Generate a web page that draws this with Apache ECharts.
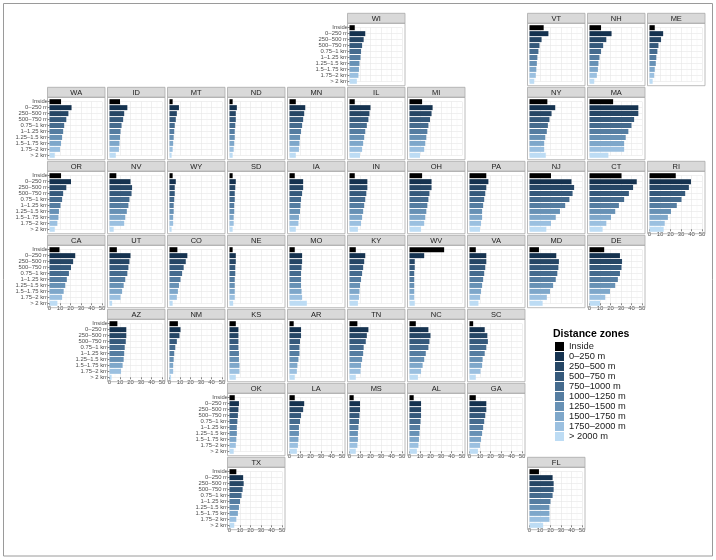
<!DOCTYPE html>
<html>
<head>
<meta charset="utf-8">
<script src="https://cdn.jsdelivr.net/npm/echarts/dist/echarts.min.js"></script>
<style>
html, body { margin: 0; padding: 0; background: #fff; }
#chart { width: 716px; height: 560px; }
</style>
</head>
<body>
<div id="chart"></div>
<script>
// distance zones (legend) and the shorter labels used on the y axes
var zones = ['Inside', '0–250 m', '250–500 m', '500–750 m', '750–1000 m', '1000–1250 m',
             '1250–1500 m', '1500–1750 m', '1750–2000 m', '> 2000 m'];
var yLabels = ['Inside', '0–250 m', '250–500 m', '500–750 m', '0.75–1 km', '1–1.25 km',
               '1.25–1.5 km', '1.5–1.75 km', '1.75–2 km', '> 2 km'];
var xMin = 0, xMax = 50, xStep = 10;
var zoneColors = ['#000000', '#15324f', '#264665', '#35597b', '#456b8e', '#557da1',
                  '#6791b5', '#7ea7ca', '#9bc0e0', '#bddcf4'];

// values per state, in zone order (Inside ... > 2 km)
var WA = [11, 21, 18, 16, 14, 13, 12, 11, 10, 5];
var ID = [10, 17, 14, 13, 11.5, 10.5, 10, 9.5, 9, 6];
var MT = [3, 9, 7, 6, 5, 4.5, 4, 3.5, 3, 2];
var ND = [3, 7, 6, 6, 5.5, 5, 5, 4.5, 4, 3];
var MN = [6, 15, 14, 13, 12, 11, 10, 9.5, 9, 6];
var IL = [5, 20, 19, 18, 16.5, 15, 14, 13, 12, 10];
var MI = [12, 22, 21, 19.5, 18, 17, 16, 15, 14, 10];
var WI = [5, 15, 13.5, 12, 11, 10.5, 9.5, 9, 8.5, 7];
var VT = [13.5, 18, 11.5, 9.5, 8.5, 7.5, 7, 6.5, 6, 4.5];
var NH = [11, 21, 16, 13, 11, 9.5, 8.5, 8, 7, 4.5];
var ME = [5, 13, 11, 8.5, 7.5, 6.5, 6, 5, 4.5, 3];
var NY = [17, 24.5, 21, 19, 17.5, 16.5, 15, 14, 14, 15.5];
var MA = [22.5, 46.5, 46.5, 42.5, 40, 37, 34.5, 33, 33, 18];
var OR = [11, 20.5, 16, 13, 12, 10.5, 9, 8.5, 7.5, 5];
var NV = [6.5, 20, 21.5, 21, 19, 18, 16.5, 15, 14, 4];
var WY = [3, 6, 5, 5, 4.5, 4, 4, 3.5, 3.5, 2];
var SD = [3, 6, 5.5, 5, 5, 4.5, 4.5, 4, 4, 3];
var IA = [5, 13, 13, 12, 11, 10.5, 10, 9, 8.5, 6];
var IN = [5, 17, 17, 16, 15, 14, 13, 12, 11, 8];
var OH = [12, 21, 21, 19, 18, 17, 16, 15, 14, 11];
var PA = [16, 18, 16, 15, 14, 13, 12, 12, 11, 10];
var NJ = [20.5, 40, 42.5, 41, 38, 34, 29, 25, 20.5, 16];
var CT = [30.5, 45, 41.5, 37.5, 33, 28, 24.5, 20.5, 16, 12.5];
var RI = [25, 39.5, 37.5, 34, 30.5, 26, 20.5, 17.5, 14.5, 13.5];
var CA = [9.5, 24.5, 22.5, 20.5, 18.5, 16.5, 15, 13.5, 12, 7.5];
var UT = [7, 20, 19, 18, 17, 15, 13.5, 12, 10.5, 2.5];
var CO = [7.5, 17, 15.5, 13.5, 12, 10.5, 9, 8, 7, 3];
var NE = [3, 6, 6, 5.5, 5.5, 5, 5, 5, 5, 3.5];
var MO = [5, 12, 12, 11.5, 11, 11, 11, 11.5, 12, 16.5];
var KY = [6, 15, 14, 13, 12, 11, 10, 9.5, 9, 8];
var WV = [33, 14, 5, 5, 4.5, 4.5, 4.5, 4.5, 4.5, 5];
var VA = [6, 16, 16, 15, 14, 13, 12, 11, 10, 8.5];
var MD = [9, 25.5, 28, 27.5, 26.5, 25, 22.5, 19.5, 16.5, 12.5];
var DE = [14, 29, 31, 30.5, 29, 27, 24.5, 19.5, 15, 10];
var AZ = [7.5, 16, 16, 15.5, 14.5, 14, 13.5, 12.5, 11, 2];
var NM = [8, 10.5, 9.5, 7, 5.5, 4.5, 4, 3.5, 3.5, 1.5];
var KS = [6, 8.5, 8.5, 8.5, 8.5, 9, 9, 9.5, 9.5, 6];
var AR = [4, 11, 11, 10, 9.5, 9.5, 8.5, 7.5, 7, 5];
var TN = [7.5, 18, 16.5, 15.5, 13.5, 13, 12, 11, 10.5, 6];
var NC = [6, 18, 20, 19, 18, 15.5, 14, 12.5, 11, 8];
var SC = [3.5, 14.5, 17, 17.5, 16, 14.5, 12.5, 12, 10.5, 6];
var OK = [5, 9, 8.5, 8, 7.5, 7, 7, 6.5, 6, 4];
var LA = [5, 14, 13, 11, 10, 9, 9, 8.5, 8, 7];
var MS = [4, 10, 10, 9.5, 9, 8.5, 8, 8, 7.5, 6];
var AL = [4, 11, 11, 11, 10.5, 10, 9.5, 9, 8.5, 7];
var GA = [6, 16, 16, 15, 14, 13, 12, 11, 10, 8];
var TX = [6.5, 13, 13.5, 12.5, 11.5, 10, 9, 8, 6.5, 4.5];
var FL = [9, 22, 23, 23, 22, 20, 19, 19, 19, 13];

var stateValues = {
    WA: WA, ID: ID, MT: MT, ND: ND, MN: MN, IL: IL, MI: MI, WI: WI, VT: VT, NH: NH, ME: ME,
    NY: NY, MA: MA, OR: OR, NV: NV, WY: WY, SD: SD, IA: IA, IN: IN, OH: OH, PA: PA, NJ: NJ,
    CT: CT, RI: RI, CA: CA, UT: UT, CO: CO, NE: NE, MO: MO, KY: KY, WV: WV, VA: VA, MD: MD,
    DE: DE, AZ: AZ, NM: NM, KS: KS, AR: AR, TN: TN, NC: NC, SC: SC, OK: OK, LA: LA, MS: MS,
    AL: AL, GA: GA, TX: TX, FL: FL
};

// geofacet grid: [state, column, row]
var geoGrid = [
    ['WI', 5, 0], ['VT', 8, 0], ['NH', 9, 0], ['ME', 10, 0],
    ['WA', 0, 1], ['ID', 1, 1], ['MT', 2, 1], ['ND', 3, 1], ['MN', 4, 1], ['IL', 5, 1], ['MI', 6, 1], ['NY', 8, 1], ['MA', 9, 1],
    ['OR', 0, 2], ['NV', 1, 2], ['WY', 2, 2], ['SD', 3, 2], ['IA', 4, 2], ['IN', 5, 2], ['OH', 6, 2], ['PA', 7, 2], ['NJ', 8, 2], ['CT', 9, 2], ['RI', 10, 2],
    ['CA', 0, 3], ['UT', 1, 3], ['CO', 2, 3], ['NE', 3, 3], ['MO', 4, 3], ['KY', 5, 3], ['WV', 6, 3], ['VA', 7, 3], ['MD', 8, 3], ['DE', 9, 3],
    ['AZ', 1, 4], ['NM', 2, 4], ['KS', 3, 4], ['AR', 4, 4], ['TN', 5, 4], ['NC', 6, 4], ['SC', 7, 4],
    ['OK', 3, 5], ['LA', 4, 5], ['MS', 5, 5], ['AL', 6, 5], ['GA', 7, 5],
    ['TX', 3, 6], ['FL', 8, 6]
];

var FONT = '"Liberation Sans", Arial, sans-serif';
var panelW = 57.5, stripH = 10, bodyH = 62.4;

// y labels on the leftmost panel of each row, x labels on the lowest panel of each column
var rowFirst = {}, colLast = {};
geoGrid.forEach(function(g) {
    if (rowFirst[g[2]] === undefined || g[1] < rowFirst[g[2]]) rowFirst[g[2]] = g[1];
    if (colLast[g[1]] === undefined || g[2] > colLast[g[1]]) colLast[g[1]] = g[2];
});

var grids = [], xAxes = [], yAxes = [], series = [];
var shapes = [{
    type: 'rect', shape: {x: 3.5, y: 3.5, width: 709, height: 552.5},
    style: {fill: 'none', stroke: '#9a9a9a', lineWidth: 1}, z: 100, silent: true
}];

geoGrid.forEach(function(g, i) {
    var code = g[0], col = g[1], row = g[2];
    var px = 47.5 + col * 60, py = 13.3 + row * 74;
    var showY = rowFirst[row] === col;
    var showX = colLast[col] === row;
    var vals = stateValues[code];

    grids.push({
        left: px + 2, top: py + stripH + 4.4, width: 52.5, height: 53.6,
        containLabel: false, outerBoundsMode: 'none'
    });
    xAxes.push({
        type: 'value', gridIndex: i, min: xMin, max: xMax, interval: xStep,
        axisLine: {show: false},
        axisTick: {show: showX, length: 2, lineStyle: {color: '#333', width: 0.6}},
        axisLabel: {show: showX, fontSize: 6, color: '#4d4d4d', margin: 2, fontFamily: FONT},
        splitLine: {show: true, lineStyle: {color: '#e6e6e6', width: 0.6}},
        minorTick: {show: false, splitNumber: 2},
        minorSplitLine: {show: true, lineStyle: {color: '#f0f0f0', width: 0.4}}
    });
    yAxes.push({
        type: 'category', gridIndex: i, data: yLabels, inverse: true, boundaryGap: false,
        axisLine: {show: false},
        axisTick: {show: showY, length: 2.5, lineStyle: {color: '#333', width: 0.6}},
        axisLabel: {show: showY, interval: 0, fontSize: 5.9, color: '#4d4d4d', margin: 1.5, fontFamily: FONT},
        splitLine: {show: true, lineStyle: {color: '#e6e6e6', width: 0.6}}
    });

    zones.forEach(function(z, k) {
        series.push({
            type: 'bar', name: z, xAxisIndex: i, yAxisIndex: i,
            data: yLabels.map(function(lab, j) { return j === k ? vals[k] : '-'; }),
            barWidth: 5, barGap: '-100%', clip: false, silent: true,
            itemStyle: {color: zoneColors[k]}
        });
    });

    shapes.push({
        type: 'rect', shape: {x: px, y: py, width: panelW, height: stripH},
        style: {fill: '#d9d9d9', stroke: '#ababab', lineWidth: 0.8}, z: 100, silent: true
    });
    shapes.push({
        type: 'text', x: px + panelW / 2, y: py + stripH / 2 + 0.3,
        style: {text: code, fill: '#1a1a1a', font: '7.5px ' + FONT, textAlign: 'center', verticalAlign: 'middle'},
        z: 101, silent: true
    });
    shapes.push({
        type: 'rect', shape: {x: px, y: py + stripH, width: panelW, height: bodyH},
        style: {fill: 'none', stroke: '#ababab', lineWidth: 0.8}, z: 100, silent: true
    });
});

var myChart = echarts.init(document.getElementById('chart'), null, {renderer: 'canvas'});
var option = {
    animation: false,
    backgroundColor: '#ffffff',
    title: {
        text: 'Distance zones', left: 553, top: 329, padding: 0,
        textStyle: {fontSize: 10.5, fontWeight: 'bold', color: '#000', fontFamily: FONT}
    },
    legend: {
        orient: 'vertical', left: 555, top: 342, padding: 0,
        itemWidth: 9, itemHeight: 9, itemGap: 1, icon: 'rect',
        selectedMode: false, data: zones,
        textStyle: {fontSize: 9.3, lineHeight: 9, color: '#1a1a1a', fontFamily: FONT}
    },
    grid: grids,
    xAxis: xAxes,
    yAxis: yAxes,
    series: series,
    graphic: {elements: shapes}
};
myChart.setOption(option);
</script>
</body>
</html>
